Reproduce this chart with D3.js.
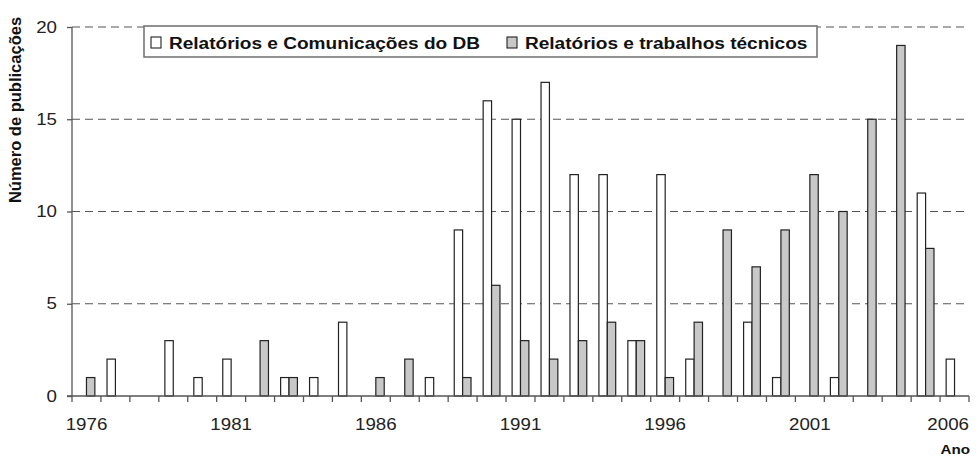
<!DOCTYPE html>
<html><head><meta charset="utf-8">
<script src="https://cdn.jsdelivr.net/npm/d3@7"></script>
<style>body{margin:0;background:#fff;} svg{display:block;font-family:"Liberation Sans",Arial,sans-serif;}</style>
</head><body>
<svg id="chart" width="976" height="457"></svg>
<script>
const years = d3.range(1976, 2007);
const seriesNames = ["Relatórios e Comunicações do DB", "Relatórios e trabalhos técnicos"];
const comunicacoes = [0,2,0,3,1,2,0,1,1,4,0,0,1,9,16,15,17,12,12,3,12,2,0,4,1,0,1,0,0,11,2];
const trabalhos =    [1,0,0,0,0,0,3,1,0,0,1,2,0,1,6,3,2,3,4,3,1,4,9,7,9,12,10,15,19,8,0];
const yTicks = [0,5,10,15,20];
const xTickLabels = [1976,1981,1986,1991,1996,2001,2006];
const colors = ["#ffffff", "#c8c8c8"];

const SX = 1.17; // horizontal stretch of the original typography
const svg = d3.select("#chart");
const pL = 72, pR = 969, pT = 27, pB = 396;

const x0 = d3.scaleBand().domain(years).range([pL, pR]).padding(0);
const x1 = d3.scaleBand().domain([0,1]).range([x0.bandwidth()*0.21, x0.bandwidth()*0.79]);
const y = d3.scaleLinear().domain([0,20]).range([pB, pT]);

// gridlines
svg.append("g").selectAll("line").data(yTicks.filter(d=>d>0)).join("line")
  .attr("x1", pL).attr("x2", 966)
  .attr("y1", d=>y(d)).attr("y2", d=>y(d))
  .attr("stroke", "#555").attr("stroke-width", 1.2).attr("stroke-dasharray", "8,5");

// bars
const data = years.map((yr,i)=>({year:yr, vals:[comunicacoes[i], trabalhos[i]]}));
const g = svg.append("g");
data.forEach(d=>{
  d.vals.forEach((v,k)=>{
    if (v>0) g.append("rect")
      .attr("x", x0(d.year)+x1(k)).attr("width", x1.bandwidth())
      .attr("y", y(v)).attr("height", y(0)-y(v))
      .attr("fill", colors[k]).attr("stroke", "#222").attr("stroke-width", 1.2);
  });
});

// y axis
const yAxis = d3.axisLeft(y).tickValues(yTicks).tickSize(5).tickPadding(10);
const ya = svg.append("g").attr("transform", `translate(${pL},0)`).call(yAxis);
ya.select(".domain").attr("stroke","#555").attr("stroke-width",1.3).attr("d", `M0,${pT}V${pB}`);
ya.selectAll(".tick line").attr("stroke","#555").attr("stroke-width",1.3);
ya.selectAll(".tick text").each(function(){
  const t = d3.select(this); const xx = +t.attr("x");
  t.attr("x", 0).attr("transform", `translate(${xx},0) scale(${SX},1)`);
}).attr("font-size", 16).attr("fill","#222").attr("font-family","Liberation Sans, Arial, sans-serif");

// x axis: ticks at band boundaries
const boundaries = years.map(yr=>x0(yr)).concat([pR]);
const xa = svg.append("g");
xa.append("line").attr("x1", 67).attr("x2", pR).attr("y1", pB).attr("y2", pB)
  .attr("stroke","#555").attr("stroke-width",1.3);
xa.selectAll("line.t").data(boundaries).join("line").attr("class","t")
  .attr("x1", d=>d).attr("x2", d=>d).attr("y1", pB).attr("y2", pB+6)
  .attr("stroke","#555").attr("stroke-width",1.3);
xa.selectAll("text").data(xTickLabels).join("text")
  .attr("transform", d=> `translate(${d===2006 ? pR : x0(d)+x0.bandwidth()/2},430) scale(${SX},1)`)
  .attr("text-anchor", d=> d===2006 ? "end" : "middle")
  .attr("font-size", 16).attr("fill","#222").text(d=>d);

// axis titles
svg.append("text").attr("transform","translate(21,110) rotate(-90)")
  .attr("text-anchor","middle").attr("font-weight","bold").attr("font-size",16.5).attr("fill","#111")
  .text("Número de publicações");
svg.append("text").attr("transform", `translate(970,454) scale(${SX},1)`).attr("text-anchor","end")
  .attr("font-weight","bold").attr("font-size",13).attr("fill","#111").text("Ano");

// legend
const lg = svg.append("g");
lg.append("rect").attr("x",144).attr("y",26).attr("width",673).attr("height",31)
  .attr("fill","#fff").attr("stroke","#777").attr("stroke-width",1.6);
const legX = [151, 507];
seriesNames.forEach((n,k)=>{
  lg.append("rect").attr("x",legX[k]).attr("y",37).attr("width",10).attr("height",11)
    .attr("fill",colors[k]).attr("stroke","#222").attr("stroke-width",1.1);
  lg.append("text").attr("transform", `translate(${legX[k]+18},48.5) scale(${SX+0.02},1)`)
    .attr("font-weight","bold").attr("font-size",16).attr("fill","#111").text(n);
});
</script>
</body></html>
